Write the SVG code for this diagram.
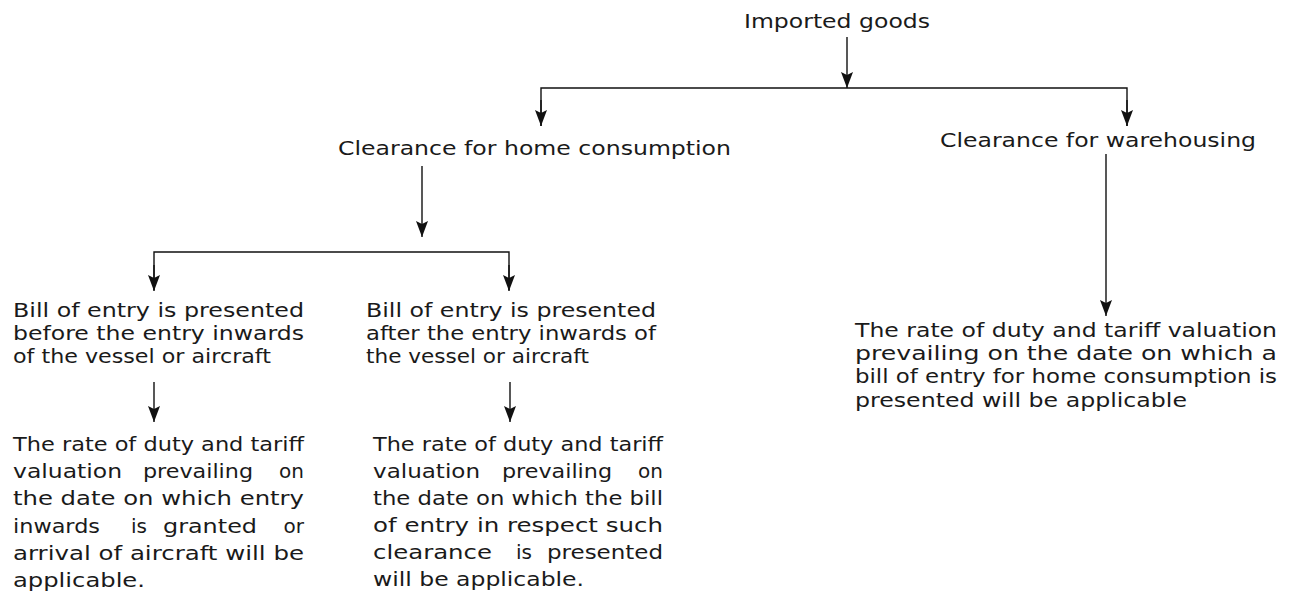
<svg xmlns="http://www.w3.org/2000/svg" width="1293" height="595" viewBox="0 0 1293 595">
<style>
.t{font-family:"DejaVu Sans","Liberation Sans",sans-serif;font-size:20px;fill:#1a1a1a}
.e{text-anchor:end}
.c{fill:none;stroke:#111;stroke-width:1.4}
</style>
<defs>
<marker id="ah" markerUnits="userSpaceOnUse" markerWidth="16" markerHeight="12" viewBox="0 0 16 12" refX="16" refY="6" orient="auto">
<path d="M0,0 L16,6 L0,12 L3,6 z" fill="#111"/>
</marker>
</defs>
<rect width="1293" height="595" fill="#fff"/>
<g id="connectors">
<line class="c" x1="847" y1="37" x2="847" y2="88" marker-end="url(#ah)"/>
<polyline class="c" points="541,126 541,88 1127,88 1127,126"/>
<line class="c" x1="541" y1="100" x2="541" y2="126" marker-end="url(#ah)"/>
<line class="c" x1="1127" y1="100" x2="1127" y2="126" marker-end="url(#ah)"/>
<line class="c" x1="1106" y1="154" x2="1106" y2="316" marker-end="url(#ah)"/>
<line class="c" x1="422" y1="166" x2="422" y2="237" marker-end="url(#ah)"/>
<polyline class="c" points="154,290 154,252 509,252 509,290"/>
<line class="c" x1="154" y1="265" x2="154" y2="291" marker-end="url(#ah)"/>
<line class="c" x1="509" y1="265" x2="509" y2="291" marker-end="url(#ah)"/>
<line class="c" x1="154" y1="382" x2="154" y2="422" marker-end="url(#ah)"/>
<line class="c" x1="510" y1="382" x2="510" y2="422" marker-end="url(#ah)"/>
</g>
<g id="imported">
<text class="t" x="744" y="28" textLength="186" lengthAdjust="spacingAndGlyphs">Imported goods</text>
</g>
<g id="home">
<text class="t" x="338" y="155" textLength="393" lengthAdjust="spacingAndGlyphs">Clearance for home consumption</text>
</g>
<g id="warehousing">
<text class="t" x="940" y="147" textLength="316" lengthAdjust="spacingAndGlyphs">Clearance for warehousing</text>
</g>
<g id="before">
<text class="t" x="13" y="317" textLength="291" lengthAdjust="spacingAndGlyphs">Bill of entry is presented</text>
<text class="t" x="13" y="340" textLength="291" lengthAdjust="spacingAndGlyphs">before the entry inwards</text>
<text class="t" x="13" y="363" textLength="258" lengthAdjust="spacingAndGlyphs">of the vessel or aircraft</text>
</g>
<g id="after">
<text class="t" x="366" y="317" textLength="290" lengthAdjust="spacingAndGlyphs">Bill of entry is presented</text>
<text class="t" x="366" y="340" textLength="290" lengthAdjust="spacingAndGlyphs">after the entry inwards of</text>
<text class="t" x="366" y="363" textLength="223" lengthAdjust="spacingAndGlyphs">the vessel or aircraft</text>
</g>
<g id="rate-before">
<text class="t" x="13" y="451" textLength="291" lengthAdjust="spacingAndGlyphs">The rate of duty and tariff</text>
<text class="t" x="13" y="478" textLength="109" lengthAdjust="spacingAndGlyphs">valuation</text>
<text class="t" x="143" y="478" textLength="110" lengthAdjust="spacingAndGlyphs">prevailing</text>
<text class="t e" x="304" y="478">on</text>
<text class="t" x="13" y="505" textLength="291" lengthAdjust="spacingAndGlyphs">the date on which entry</text>
<text class="t" x="13" y="533" textLength="87" lengthAdjust="spacingAndGlyphs">inwards</text>
<text class="t" x="131" y="533">is</text>
<text class="t" x="163" y="533" textLength="94" lengthAdjust="spacingAndGlyphs">granted</text>
<text class="t e" x="304" y="533">or</text>
<text class="t" x="13" y="560" textLength="291" lengthAdjust="spacingAndGlyphs">arrival of aircraft will be</text>
<text class="t" x="13" y="587" textLength="132" lengthAdjust="spacingAndGlyphs">applicable.</text>
</g>
<g id="rate-after">
<text class="t" x="373" y="451" textLength="290" lengthAdjust="spacingAndGlyphs">The rate of duty and tariff</text>
<text class="t" x="373" y="478" textLength="107" lengthAdjust="spacingAndGlyphs">valuation</text>
<text class="t" x="502" y="478" textLength="110" lengthAdjust="spacingAndGlyphs">prevailing</text>
<text class="t e" x="663" y="478">on</text>
<text class="t" x="373" y="505" textLength="290" lengthAdjust="spacingAndGlyphs">the date on which the bill</text>
<text class="t" x="373" y="532" textLength="290" lengthAdjust="spacingAndGlyphs">of entry in respect such</text>
<text class="t" x="373" y="559" textLength="119" lengthAdjust="spacingAndGlyphs">clearance</text>
<text class="t" x="516" y="559">is</text>
<text class="t e" x="663" y="559" textLength="116" lengthAdjust="spacingAndGlyphs">presented</text>
<text class="t" x="373" y="586" textLength="211" lengthAdjust="spacingAndGlyphs">will be applicable.</text>
</g>
<g id="rate-warehousing">
<text class="t" x="855" y="337" textLength="422" lengthAdjust="spacingAndGlyphs">The rate of duty and tariff valuation</text>
<text class="t" x="855" y="360" textLength="422" lengthAdjust="spacingAndGlyphs">prevailing on the date on which a</text>
<text class="t" x="855" y="383" textLength="422" lengthAdjust="spacingAndGlyphs">bill of entry for home consumption is</text>
<text class="t" x="855" y="407" textLength="332" lengthAdjust="spacingAndGlyphs">presented will be applicable</text>
</g>
</svg>
